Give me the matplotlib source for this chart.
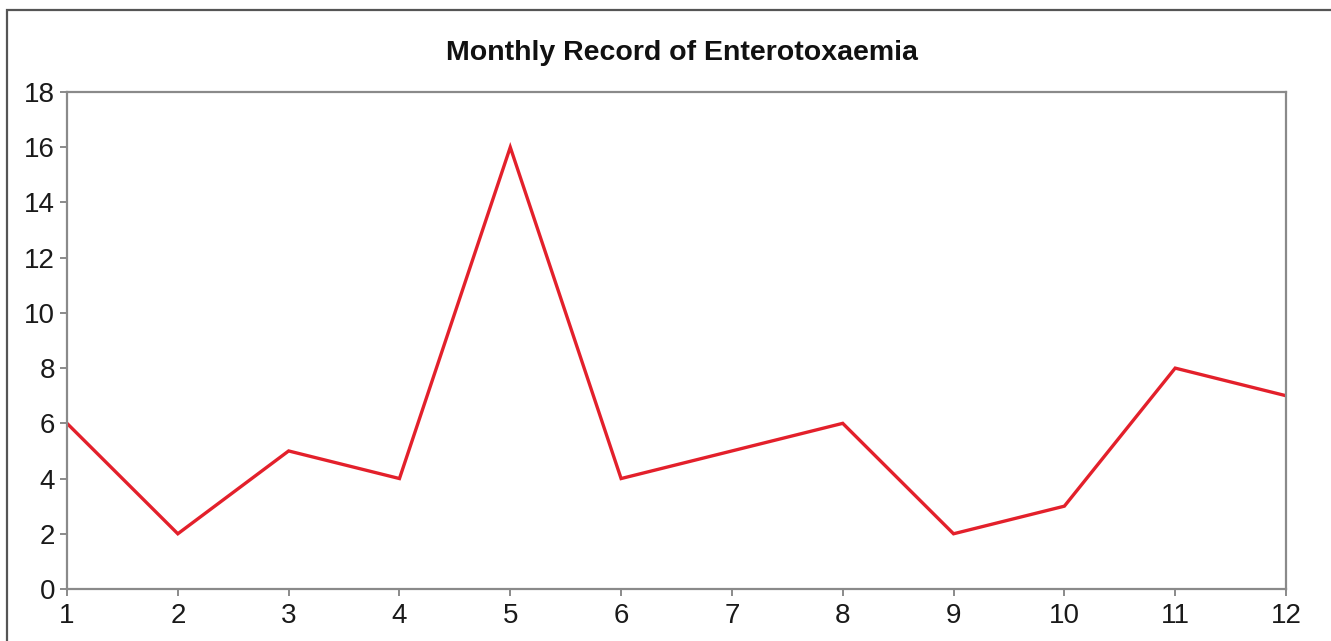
import matplotlib
matplotlib.use('Agg')
import matplotlib.pyplot as plt
from matplotlib.patches import Rectangle

months = list(range(1, 13))
cases = [6, 2, 5, 4, 16, 4, 5, 6, 2, 3, 8, 7]
yticks = list(range(0, 19, 2))
title = 'Monthly Record of Enterotoxaemia'


def main():
    fig = plt.figure(figsize=(13.31, 6.41), dpi=100)
    # outer frame (only top and left edges are visible in the crop)
    fig.patches.append(Rectangle((7 / 1331, -0.1), 1.2, (631 / 641) + 0.1,
                                 transform=fig.transFigure, fill=False,
                                 edgecolor='#555555', linewidth=1.6))

    ax = fig.add_axes([67 / 1331, 52 / 641, 1219 / 1331, 497 / 641])
    ax.plot(months, cases, color='#e3202b', linewidth=2.4, solid_joinstyle='miter')
    ax.set_xlim(1, 12)
    ax.set_ylim(0, 18)
    ax.set_xticks(months)
    ax.set_yticks(yticks)
    for s in ax.spines.values():
        s.set_color('#8a8a8a')
        s.set_linewidth(1.6)
    ax.tick_params(axis='both', colors='#8a8a8a', length=5, width=1.4,
                   labelcolor='#1a1a1a', labelsize=20)
    ax.tick_params(axis='x', pad=5)
    for lbl in ax.get_xticklabels() + ax.get_yticklabels():
        lbl.set_family('Liberation Sans')

    fig.text(682 / 1331, 1 - 53 / 641, title, ha='center', va='center',
             fontsize=20.5, fontweight='heavy', color='#111111',
             family=['Liberation Sans Narrow', 'Liberation Sans'])

    fig.savefig('out.png', dpi=100)


if __name__ == '__main__':
    main()
